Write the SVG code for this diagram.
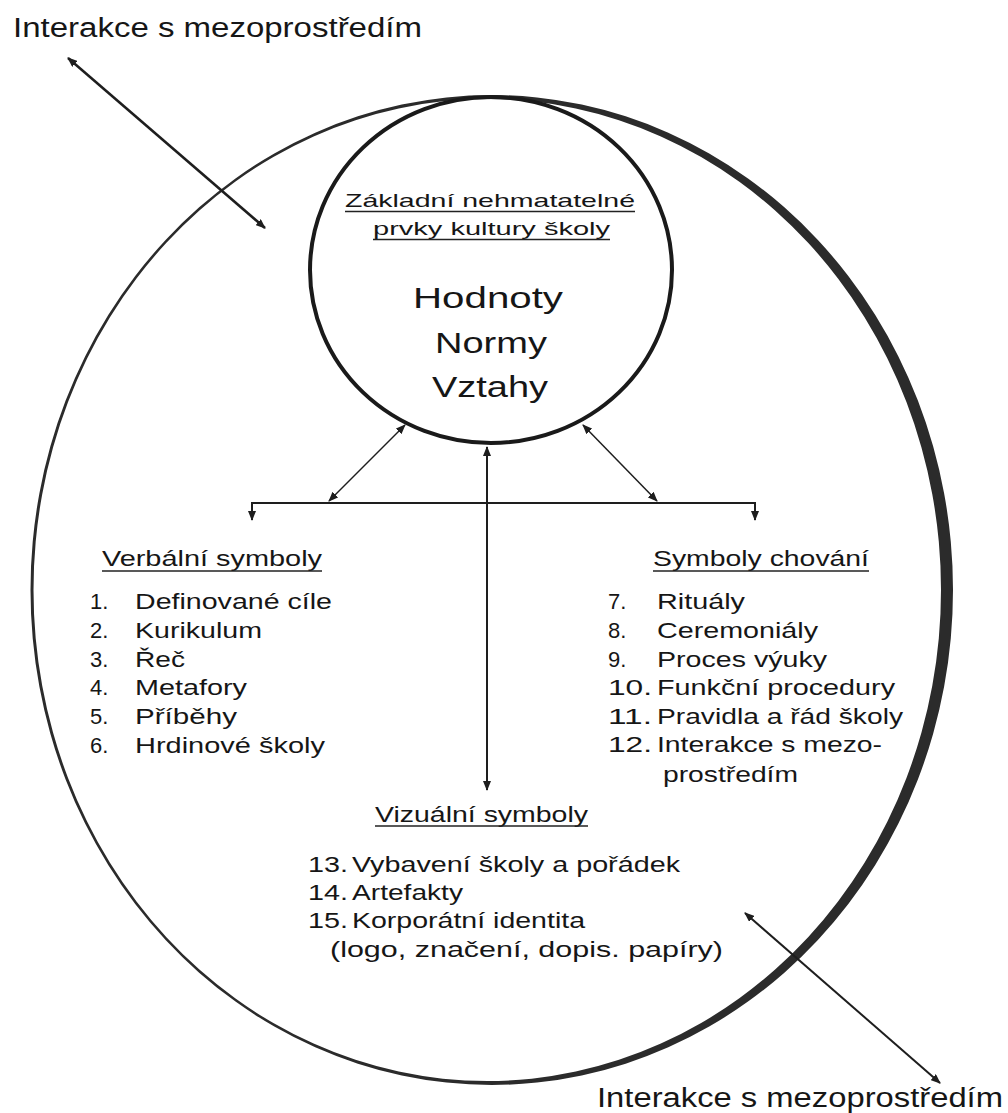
<svg xmlns="http://www.w3.org/2000/svg" width="1008" height="1113" viewBox="0 0 1008 1113">
  <style>
    text { font-family: "Liberation Sans", Arial, sans-serif; fill: #161616; }
    .lbl { font-size: 27px; }
    .hdr { font-size: 19px; }
    .core { font-size: 29px; }
    .item { font-size: 22px; }
    .ul { stroke: #222; stroke-width: 1.5; fill: none; }
    .link { stroke: #1e1e1e; fill: none; }
  </style>
  <defs>
    <marker id="tip" viewBox="0 0 10 8" refX="9" refY="4" markerUnits="userSpaceOnUse" markerWidth="10" markerHeight="8" orient="auto-start-reverse">
      <path d="M0,0 L10,4 L0,8 Z" fill="#1e1e1e"/>
    </marker>
  </defs>
  <rect width="1008" height="1113" fill="#ffffff"/>

  <!-- outer school boundary: crescent stroke, thin on the left, heavy on the right -->
  <g id="school">
    <path fill="#2b2b2b" fill-rule="evenodd" d="M30.5,590 A461.25,495 0 1 0 953,590 A461.25,495 0 1 0 30.5,590 Z M33.5,590 A453.75,491 0 1 0 941,590 A453.75,491 0 1 0 33.5,590 Z"/>
  </g>

  <!-- core: intangible elements -->
  <g id="core">
    <ellipse cx="491" cy="270" rx="181" ry="173" fill="none" stroke="#1a1a1a" stroke-width="4"/>
    <text class="hdr" x="345" y="207" textLength="290" lengthAdjust="spacingAndGlyphs">Základní nehmatatelné</text>
    <line class="ul" x1="345" y1="211.5" x2="635" y2="211.5"/>
    <text class="hdr" x="373" y="235" textLength="237" lengthAdjust="spacingAndGlyphs">prvky kultury školy</text>
    <line class="ul" x1="373" y1="239.5" x2="610" y2="239.5"/>
    <text class="core" x="413" y="308" textLength="150" lengthAdjust="spacingAndGlyphs">Hodnoty</text>
    <text class="core" x="435" y="353" textLength="112" lengthAdjust="spacingAndGlyphs">Normy</text>
    <text class="core" x="432" y="397" textLength="116" lengthAdjust="spacingAndGlyphs">Vztahy</text>
  </g>

  <!-- verbal symbols -->
  <g id="verbal">
    <text class="item" x="102" y="566" textLength="220" lengthAdjust="spacingAndGlyphs">Verbální symboly</text>
    <line class="ul" x1="102" y1="571" x2="322" y2="571"/>
    <text class="item" x="90" y="609">1.</text>
    <text class="item" x="135" y="609" textLength="197" lengthAdjust="spacingAndGlyphs">Definované cíle</text>
    <text class="item" x="90" y="638">2.</text>
    <text class="item" x="135" y="638" textLength="127" lengthAdjust="spacingAndGlyphs">Kurikulum</text>
    <text class="item" x="90" y="667">3.</text>
    <text class="item" x="135" y="667" textLength="50" lengthAdjust="spacingAndGlyphs">Řeč</text>
    <text class="item" x="90" y="695">4.</text>
    <text class="item" x="135" y="695" textLength="112" lengthAdjust="spacingAndGlyphs">Metafory</text>
    <text class="item" x="90" y="724">5.</text>
    <text class="item" x="135" y="724" textLength="102" lengthAdjust="spacingAndGlyphs">Příběhy</text>
    <text class="item" x="90" y="753">6.</text>
    <text class="item" x="135" y="753" textLength="190" lengthAdjust="spacingAndGlyphs">Hrdinové školy</text>
  </g>

  <!-- behavioural symbols -->
  <g id="behaviour">
    <text class="item" x="653" y="566" textLength="216" lengthAdjust="spacingAndGlyphs">Symboly chování</text>
    <line class="ul" x1="653" y1="571" x2="869" y2="571"/>
    <text class="item" x="608" y="609">7.</text>
    <text class="item" x="657" y="609" textLength="88" lengthAdjust="spacingAndGlyphs">Rituály</text>
    <text class="item" x="608" y="638">8.</text>
    <text class="item" x="657" y="638" textLength="161" lengthAdjust="spacingAndGlyphs">Ceremoniály</text>
    <text class="item" x="608" y="667">9.</text>
    <text class="item" x="657" y="667" textLength="170" lengthAdjust="spacingAndGlyphs">Proces výuky</text>
    <text class="item" x="608" y="695" textLength="44" lengthAdjust="spacingAndGlyphs">10.</text>
    <text class="item" x="657" y="695" textLength="238" lengthAdjust="spacingAndGlyphs">Funkční procedury</text>
    <text class="item" x="608" y="724" textLength="44" lengthAdjust="spacingAndGlyphs">11.</text>
    <text class="item" x="657" y="724" textLength="246" lengthAdjust="spacingAndGlyphs">Pravidla a řád školy</text>
    <text class="item" x="608" y="752" textLength="44" lengthAdjust="spacingAndGlyphs">12.</text>
    <text class="item" x="657" y="752" textLength="225" lengthAdjust="spacingAndGlyphs">Interakce s mezo-</text>
    <text class="item" x="663" y="782" textLength="135" lengthAdjust="spacingAndGlyphs">prostředím</text>
  </g>

  <!-- visual symbols -->
  <g id="visual">
    <text class="item" x="375" y="822" textLength="213" lengthAdjust="spacingAndGlyphs">Vizuální symboly</text>
    <line class="ul" x1="375" y1="826" x2="588" y2="826"/>
    <text class="item" x="308" y="872" textLength="40" lengthAdjust="spacingAndGlyphs">13.</text>
    <text class="item" x="352" y="872" textLength="328" lengthAdjust="spacingAndGlyphs">Vybavení školy a pořádek</text>
    <text class="item" x="308" y="900" textLength="40" lengthAdjust="spacingAndGlyphs">14.</text>
    <text class="item" x="352" y="900" textLength="111" lengthAdjust="spacingAndGlyphs">Artefakty</text>
    <text class="item" x="308" y="928" textLength="40" lengthAdjust="spacingAndGlyphs">15.</text>
    <text class="item" x="352" y="928" textLength="233" lengthAdjust="spacingAndGlyphs">Korporátní identita</text>
    <text class="item" x="330" y="957" textLength="393" lengthAdjust="spacingAndGlyphs">(logo, značení, dopis. papíry)</text>
  </g>

  <!-- environment labels -->
  <g id="env-top">
    <text class="lbl" x="13" y="37" textLength="409" lengthAdjust="spacingAndGlyphs">Interakce s mezoprostředím</text>
  </g>
  <g id="env-bottom">
    <text class="lbl" x="597" y="1107" textLength="406" lengthAdjust="spacingAndGlyphs">Interakce s mezoprostředím</text>
  </g>

  <!-- connectors -->
  <g id="connectors" class="link">
    <line x1="68" y1="58" x2="265" y2="228" stroke-width="2.5" marker-start="url(#tip)" marker-end="url(#tip)"/>
    <line x1="745" y1="913" x2="940" y2="1083" stroke-width="2" marker-start="url(#tip)" marker-end="url(#tip)"/>
    <line x1="252" y1="503" x2="755" y2="503" stroke-width="2"/>
    <line x1="252" y1="502" x2="252" y2="520" stroke-width="2" marker-end="url(#tip)"/>
    <line x1="755" y1="502" x2="755" y2="520" stroke-width="2" marker-end="url(#tip)"/>
    <line x1="487" y1="447" x2="487" y2="790" stroke-width="2" marker-start="url(#tip)" marker-end="url(#tip)"/>
    <line x1="329" y1="501" x2="405" y2="425" stroke-width="1.5" marker-start="url(#tip)" marker-end="url(#tip)"/>
    <line x1="657" y1="501" x2="583" y2="425" stroke-width="1.5" marker-start="url(#tip)" marker-end="url(#tip)"/>
  </g>
</svg>
